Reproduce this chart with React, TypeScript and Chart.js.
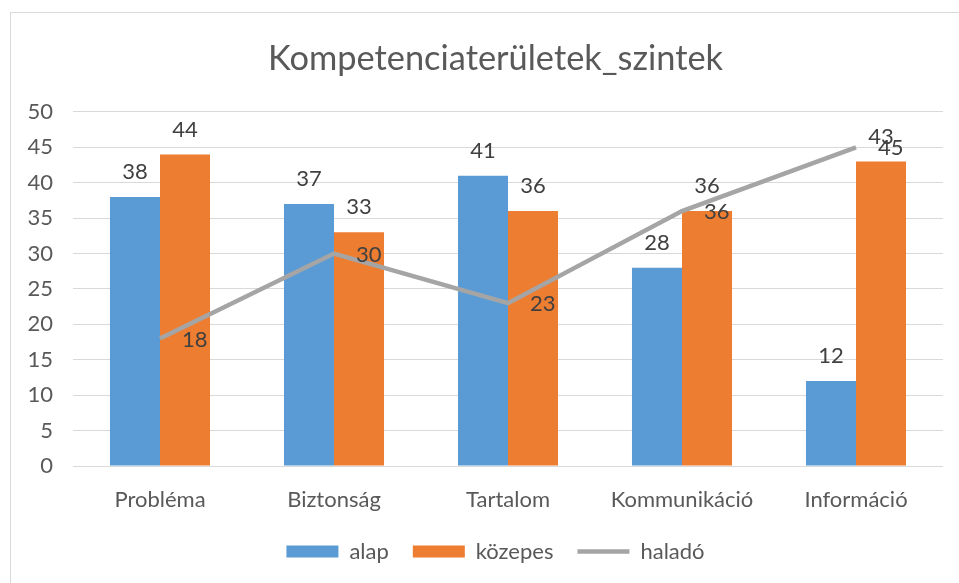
import React, { useEffect, useRef } from "react";
import { Chart, registerables } from "chart.js";

Chart.register(...registerables);

const categories = ["Probléma", "Biztonság", "Tartalom", "Kommunikáció", "Információ"];
const alap = [38, 37, 41, 28, 12];
const kozepes = [44, 33, 36, 36, 43];
const halado = [18, 30, 23, 36, 45];
const seriesNames = ["alap", "közepes", "haladó"];
const chartTitle = "Kompetenciaterületek_szintek";

const FONT = "Lato, 'Open Sans', sans-serif";
const AXIS_COLOR = "#595959";
const LABEL_COLOR = "#404040";
const FS = 22;

const valueLabels = {
  id: "valueLabels",
  afterDatasetsDraw(chart: any) {
    const ctx = chart.ctx;
    ctx.save();
    ctx.font = `${FS}px ${FONT}`;
    ctx.fillStyle = LABEL_COLOR;
    ctx.textBaseline = "middle";
    chart.data.datasets.forEach((ds: any, i: number) => {
      const meta = chart.getDatasetMeta(i);
      meta.data.forEach((el: any, j: number) => {
        const v = ds.data[j];
        if (meta.type === "bar") {
          ctx.textAlign = "center";
          ctx.fillText(String(v), el.x, el.y - 25);
        } else {
          ctx.textAlign = "left";
          ctx.fillText(String(v), el.x + 22, el.y + 1);
        }
      });
    });
    ctx.restore();
  },
};

export default function App() {
  const ref = useRef<HTMLCanvasElement>(null);
  useEffect(() => {
    if (!ref.current) return;
    const chart = new Chart(ref.current, {
      type: "bar",
      data: {
        labels: categories,
        datasets: [
          {
            type: "bar",
            label: seriesNames[0],
            data: alap,
            backgroundColor: "#5b9bd5",
            categoryPercentage: 0.575,
            barPercentage: 1,
            order: 1,
          },
          {
            type: "bar",
            label: seriesNames[1],
            data: kozepes,
            backgroundColor: "#ed7d31",
            categoryPercentage: 0.575,
            barPercentage: 1,
            order: 1,
          },
          {
            type: "line",
            label: seriesNames[2],
            data: halado,
            borderColor: "#a5a5a5",
            backgroundColor: "#a5a5a5",
            borderWidth: 4.5,
            pointRadius: 0,
            tension: 0,
            order: 0,
          },
        ] as any,
      },
      options: {
        animation: false,
        responsive: false,
        maintainAspectRatio: false,
        layout: { padding: { left: 48, right: 16, top: 0, bottom: 10.5 } },
        scales: {
          x: {
            grid: { display: false },
            border: { display: false },
            ticks: { color: AXIS_COLOR, font: { family: FONT, size: FS }, padding: 13 },
            afterFit: (s: any) => {
              s.height = 50.5;
            },
          },
          y: {
            min: 0,
            max: 50,
            ticks: { stepSize: 5, color: AXIS_COLOR, font: { family: FONT, size: FS }, padding: 20 },
            grid: { color: "#d9d9d9", lineWidth: 1, drawTicks: false },
            border: { display: false },
            afterFit: (s: any) => {
              s.width = 25;
            },
            afterUpdate: (s: any) => {
              s._computeLabelArea = () => null;
            },
          },
        },
        plugins: {
          title: {
            display: true,
            text: chartTitle,
            color: AXIS_COLOR,
            font: { family: FONT, size: 34.4, weight: "normal" as any, lineHeight: 1.2 },
            padding: { top: 38, bottom: 32.7 },
          },
          legend: {
            display: true,
            position: "bottom",
            labels: {
              color: AXIS_COLOR,
              font: { family: FONT, size: FS },
              usePointStyle: true,
              pointStyleWidth: 52,
              boxHeight: 12,
              padding: 24,
              generateLabels: (chart: any) => {
                const items = Chart.defaults.plugins.legend.labels.generateLabels(chart);
                return items
                  .slice()
                  .sort((a: any, b: any) => a.datasetIndex - b.datasetIndex)
                  .map((it: any) => {
                    if (it.datasetIndex === 2) {
                      return { ...it, pointStyle: "line", strokeStyle: "#a5a5a5", lineWidth: 4.5, fillStyle: "#a5a5a5" };
                    }
                    return { ...it, pointStyle: "rect", lineWidth: 0, strokeStyle: it.fillStyle };
                  });
              },
            },
          },
          tooltip: { enabled: false },
        },
      },
      plugins: [valueLabels],
    });
    return () => chart.destroy();
  }, []);
  return (
    <div style={{ position: "absolute", left: 0, top: 0, width: 959, height: 583, overflow: "hidden", background: "#fff" }}>
      <div
        style={{
          position: "absolute",
          left: 10,
          top: 12,
          width: 960,
          height: 600,
          borderLeft: "1px solid #d9d9d9",
          borderTop: "1px solid #d9d9d9",
          boxSizing: "border-box",
        }}
      />
      <canvas ref={ref} width={959} height={583} style={{ position: "absolute", left: 0, top: 0 }} />
    </div>
  );
}
